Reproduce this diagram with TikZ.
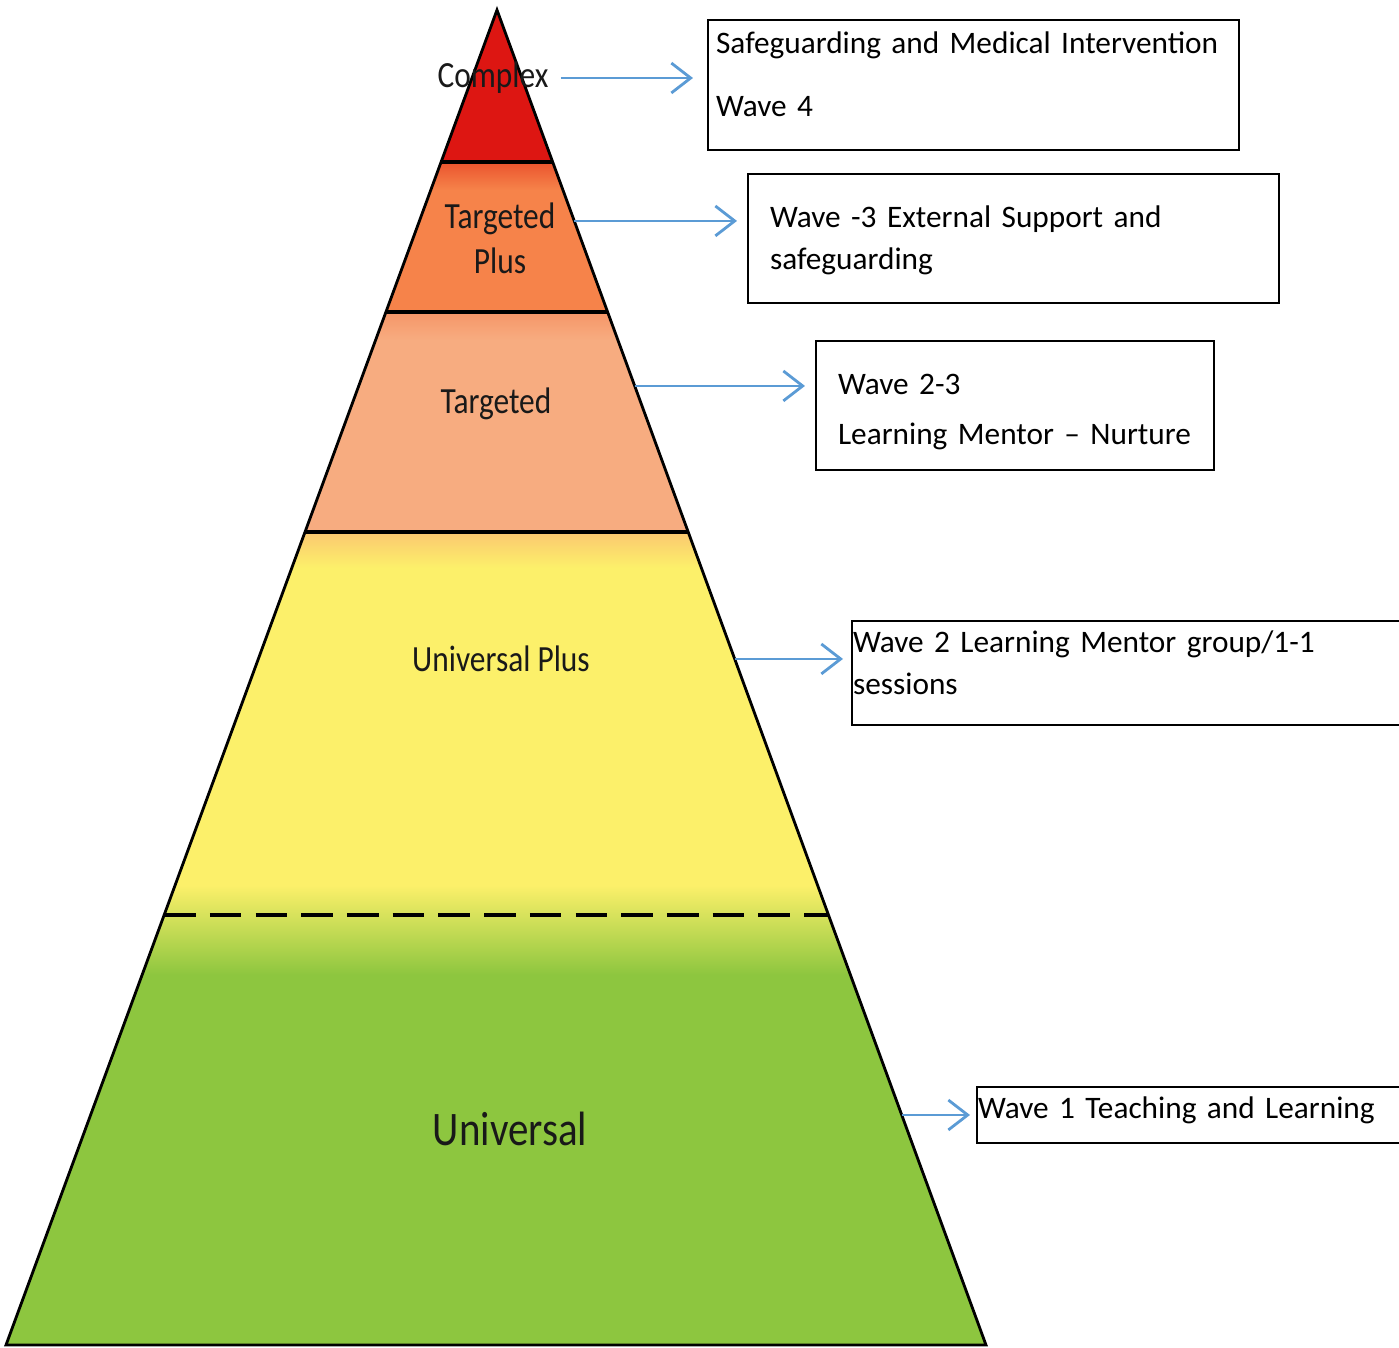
\documentclass[tikz,border=0pt]{standalone}
\usepackage{fontspec}
\setmainfont{Carlito}
\newfontfamily\tierfont[FakeStretch=0.85]{Carlito}
\usetikzlibrary{arrows.meta,calc}
\hyphenpenalty=10000
\definecolor{cRed}{RGB}{221,22,18}
\definecolor{cRedOrange}{RGB}{234,84,46}
\definecolor{cOrange}{RGB}{246,131,74}
\definecolor{cSalmonTop}{RGB}{246,150,104}
\definecolor{cSalmon}{RGB}{247,172,128}
\definecolor{cPeach}{RGB}{251,200,112}
\definecolor{cYellow}{RGB}{252,240,106}
\definecolor{cGreen}{RGB}{141,198,63}
\definecolor{cArrow}{RGB}{91,155,213}
\tikzstyle{wavearrow} = [line width=0.7pt,cArrow,-{Straight Barb[length=5.5pt,width=8.5pt,line width=0.8pt]},shorten >=0.1cm]
\tikzstyle{wavebox} = [draw,rectangle,line width=0.6pt,anchor=north west,align=left,inner ysep=3pt,
                       font=\fontsize{8.9}{12}\selectfont]
\tikzstyle{tier} = [align=center,text=black!90,font=\tierfont\fontsize{10.5}{12.8}\selectfont]

\begin{document}
\begin{tikzpicture}[x=0.01cm,y=-0.01cm]
\useasboundingbox (0,0) rectangle (1399,1348);
\coordinate (apex) at (497,10);
\coordinate (bl) at (6,1345);
\coordinate (br) at (986,1345);

% colour bands of the pyramid
\begin{scope}
\clip (apex) -- (bl) -- (br) -- cycle;
\foreach \ytop/\ybot/\col in {0/162/cRed,162/312/cOrange,312/532/cSalmon,532/900/cYellow,900/1348/cGreen}
  \fill[\col] (0,\ytop) rectangle (1000,\ybot);
\shade[top color=cRedOrange,bottom color=cOrange] (0,162) rectangle (1000,190);
\shade[top color=cSalmonTop,bottom color=cSalmon] (0,312) rectangle (1000,340);
\shade[top color=cPeach,bottom color=cYellow] (0,532) rectangle (1000,568);
\shade[top color=cYellow,bottom color=cGreen] (0,885) rectangle (1000,975);
\foreach \y in {162,312,532}
  \draw[line width=1.1pt] (0,\y) -- (1000,\y);
\end{scope}
\draw[line width=1.2pt,dash pattern=on 9pt off 4pt] ($(apex)!0.678!(bl)$) -- ($(apex)!0.678!(br)$);
\draw[line width=0.8pt] (apex) -- (bl) -- (br) -- cycle;

% tier labels
\node[tier] (complex) at (493,78) {Complex};
\node[tier] (tplus) at (500,238) {Targeted\\Plus};
\node[tier] (targeted) at (496,404) {Targeted};
\node[tier] (uplus) at (501,659) {Universal Plus};
\node[tier,font=\tierfont\fontsize{13.7}{16}\selectfont] (universal) at (510,1129) {Universal};

% wave boxes
\node[wavebox,inner xsep=0.08cm,text width=5.15cm,minimum height=1.3cm,text height=6.4pt,text depth=24.6pt] (box1) at (707,19)
  {Safeguarding and Medical Intervention\\[5.9pt]Wave 4};
\node[wavebox,inner xsep=0.22cm,text width=4.87cm,minimum height=1.29cm,text height=12.1pt,text depth=18.6pt] (box2) at (747,173)
  {Wave -3 External Support and\\safeguarding};
\node[wavebox,inner xsep=0.22cm,text width=3.54cm,minimum height=1.29cm,text height=12.1pt,text depth=18.6pt] (box3) at (815,340)
  {Wave 2-3\\[2.2pt]Learning Mentor – Nurture};
\node[wavebox,inner xsep=0.01cm,text width=5.8cm,minimum height=1.04cm,text height=5.8pt,text depth=17.8pt] (box4) at (851,620)
  {Wave 2 Learning Mentor group/1-1\\sessions};
\node[wavebox,inner xsep=0.01cm,text width=5cm,minimum height=0.56cm,text height=5.8pt,text depth=4.1pt] (box5) at (976,1086)
  {Wave 1 Teaching and Learning};

% arrows from the tiers
\coordinate (s2) at ($(apex)!0.158!(br)$);
\coordinate (s3) at ($(apex)!0.2816!(br)$);
\coordinate (s4) at ($(apex)!0.4861!(br)$);
\coordinate (s5) at ($(apex)!0.8277!(br)$);
\draw[wavearrow,shorten >=0.14cm] (complex.east) -- (complex.east -| box1.west);
\draw[wavearrow] (s2) -- (s2 -| box2.west);
\draw[wavearrow] (s3) -- (s3 -| box3.west);
\draw[wavearrow,shorten >=0.08cm] (s4) -- (s4 -| box4.west);
\draw[wavearrow,shorten >=0.06cm] (s5) -- (s5 -| box5.west);
\end{tikzpicture}
\end{document}
